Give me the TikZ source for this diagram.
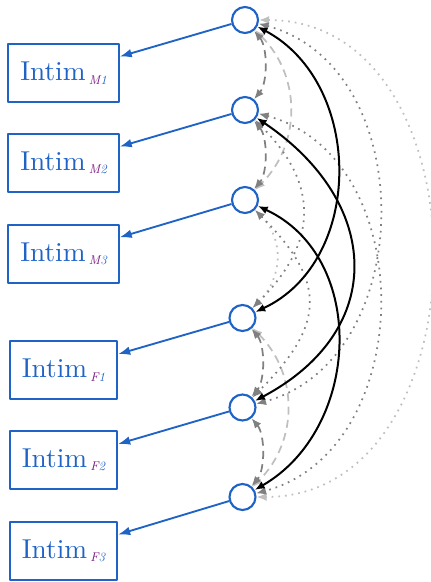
\documentclass[tikz,border=0pt]{standalone}
\usepackage{fontspec}
\usetikzlibrary{arrows.meta}

\newfontfamily\boxfont{lmroman10-regular.otf}
\definecolor{semblue}{RGB}{31,99,198}
\definecolor{sempurple}{RGB}{125,25,130}
\newcommand{\intim}[2]{Intim\kern2.5pt\raisebox{-2.5pt}{\rmfamily\fontsize{9.5}{10}\selectfont\itshape\textcolor{sempurple}{#1}#2}}

\begin{document}
\begin{tikzpicture}[x=0.75pt, y=-0.75pt, line join=round,
	latent/.style={circle, draw=semblue, line width=1.6pt, minimum size=19.5pt, inner sep=0pt},
	indbox/.style={rectangle, draw=semblue, line width=1.5pt, text=semblue, minimum height=43.5pt, inner xsep=9pt, font=\boxfont\fontsize{20.5}{24}\selectfont},
	load/.style={-{Latex[length=9pt,width=6.5pt]}, draw=semblue, line width=1.4pt},
	cov/.style={{Latex[length=7.5pt,width=6pt]}-{Latex[length=7.5pt,width=6pt]}},
	covsolid/.style={cov, line width=1.5pt},
	covdash/.style={cov, line width=1.3pt, dash pattern=on 6pt off 4pt},
	covdot/.style={cov, line width=1.3pt, dash pattern=on 1.3pt off 3.7pt}]
	\useasboundingbox (0, 0) rectangle (430, 582);
	% latent variables
	\node[latent] (L1) at (245, 20) {};
	\node[latent] (L2) at (245, 110) {};
	\node[latent] (L3) at (245, 200) {};
	\node[latent] (L4) at (242.5, 318) {};
	\node[latent] (L5) at (242.5, 407.5) {};
	\node[latent] (L6) at (242.5, 497) {};
	% indicators
	\node[indbox] (M1) at (63.5, 73) {\intim{M}{1}};
	\node[indbox] (M2) at (63.5, 163) {\intim{M}{2}};
	\node[indbox] (M3) at (63.5, 254) {\intim{M}{3}};
	\node[indbox] (F1) at (63.5, 370) {\intim{F}{1}};
	\node[indbox] (F2) at (63.5, 460) {\intim{F}{2}};
	\node[indbox] (F3) at (63.5, 551) {\intim{F}{3}};
	\foreach \l/\m in {L1/M1, L2/M2, L3/M3, L4/F1, L5/F2, L6/F3}
		\draw[load] (\l) -- (\m);
	% covariances
	\draw[covdot, black!25] (L1) to[out=0, in=0, looseness=1.24] (L6);
	\draw[covdot, black!25] (L3) to[out=-45, in=45, looseness=1.1] (L4);
	\draw[covdash, black!25] (L1) to[out=-45, in=45, looseness=1.05] (L3);
	\draw[covdash, black!25] (L4) to[out=-45, in=45, looseness=1.05] (L6);
	\draw[covdot, black!50] (L1) to[out=-15, in=15, looseness=1.13] (L5);
	\draw[covdot, black!50] (L2) to[out=-15, in=15, looseness=1.13] (L6);
	\draw[covdot, black!50] (L2) to[out=-45, in=45, looseness=1.25] (L4);
	\draw[covdot, black!50] (L3) to[out=-45, in=45, looseness=1.4] (L5);
	\foreach \a/\b in {L1/L2, L2/L3, L4/L5, L5/L6}
		\draw[covdash, black!50] (\a) to[out=-50, in=50, looseness=0.8] (\b);
	\draw[covsolid] (L1) to[out=-28, in=25, looseness=1.08] (L4);
	\draw[covsolid] (L2) to[out=-34, in=28, looseness=1.36] (L5);
	\draw[covsolid] (L3) to[out=-25, in=30, looseness=1.1] (L6);
\end{tikzpicture}
\end{document}
